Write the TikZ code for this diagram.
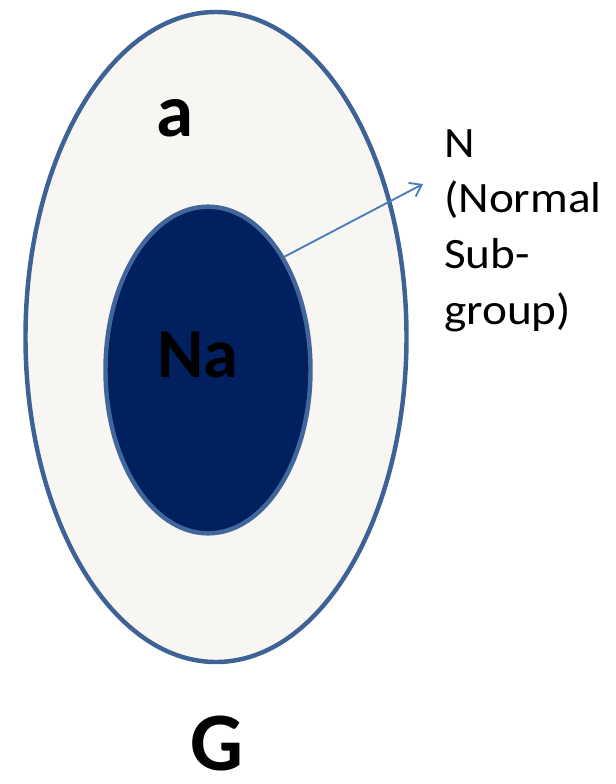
\documentclass[tikz,border=0pt]{standalone}
\usepackage{fontspec}
\usepackage{graphicx}
\setmainfont{Carlito}
\usetikzlibrary{arrows.meta,shapes.geometric}

\definecolor{shellfill}{HTML}{F7F6F3}
\definecolor{shellline}{HTML}{3E6295}
\definecolor{corefill}{HTML}{002060}
\definecolor{coreline}{HTML}{41679A}
\definecolor{pointer}{HTML}{4A7EBB}

\begin{document}
\begin{tikzpicture}[
  x=0.03cm, y=-0.03cm,
  set/.style={ellipse, inner sep=0pt, line width=3.8pt},
  letter/.style={inner sep=0pt},
  arrow/.style={-{Straight Barb[length=3.2mm, width=4.6mm]}, line width=1.6pt, pointer}
]
  \useasboundingbox (0,0) rectangle (616,784);

  \node[set, draw=shellline, fill=shellfill, minimum width=11.43cm, minimum height=19.5cm] (group) at (216,337) {};
  \node[set, draw=coreline, fill=corefill, minimum width=6.15cm, minimum height=9.8cm] (normal) at (208,370) {};

  \node[letter, font=\fontsize{64}{70}\selectfont\bfseries] (elem) at (175,118) {a};
  \node[letter, font=\fontsize{60}{66}\selectfont\bfseries] (coset) at (198,355) {Na};
  \node[letter, font=\fontsize{71}{78}\selectfont\bfseries] (name) at (217,744) {G};

  \node[anchor=north west, inner sep=0pt, font=\fontsize{37}{47.5}\selectfont] (label) at (444,118)
    {\scalebox{1.09}[1]{\begin{tabular}{@{}l@{}}N\\(Normal\\Sub-\\group)\end{tabular}}};

  \coordinate (tip) at (423,184);
  \draw[arrow] (normal.56) -- (tip);
\end{tikzpicture}
\end{document}
